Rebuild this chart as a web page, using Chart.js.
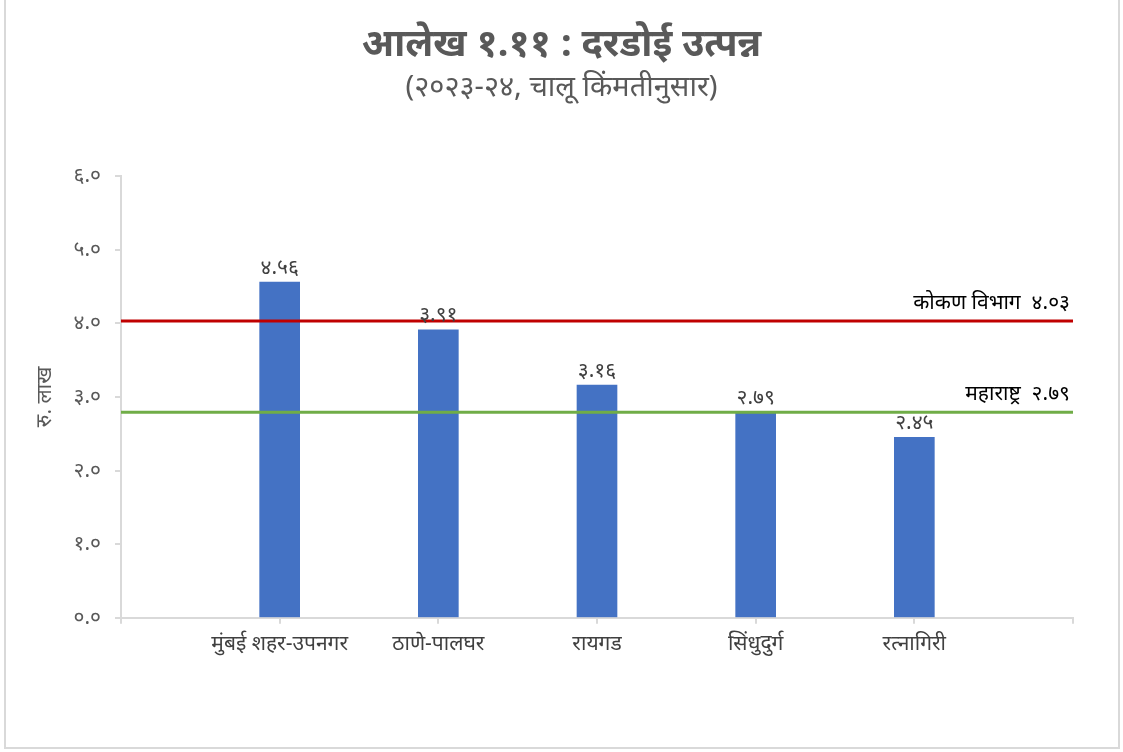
<!DOCTYPE html>
<html><head><meta charset="utf-8">
<script src="https://cdn.jsdelivr.net/npm/chart.js@4.4.1/dist/chart.umd.min.js"></script>
<style>html,body{margin:0;padding:0;background:#fff;}#wrap{width:1123px;height:752px;position:relative;}</style>
</head><body><div id="wrap"><canvas id="c" width="1123" height="752"></canvas></div>
<script>
const categories = ['', 'मुंबई शहर-उपनगर', 'ठाणे-पालघर', 'रायगड', 'सिंधुदुर्ग', 'रत्नागिरी', ''];
const barValues = [null, 4.56, 3.91, 3.16, 2.79, 2.45, null];
const barLabels = ['', '४.५६', '३.९१', '३.१६', '२.७९', '२.४५', ''];
const konkanValue = 4.03;
const konkanLabel = 'कोकण विभाग  ४.०३';
const maharashtraValue = 2.79;
const maharashtraLabel = 'महाराष्ट्र  २.७९';
const yTickLabels = ['०.०', '१.०', '२.०', '३.०', '४.०', '५.०', '६.०'];
const titleText = 'आलेख १.११ : दरडोई उत्पन्न';
const subtitleText = '(२०२३-२४, चालू किंमतीनुसार)';
const yTitle = 'रु. लाख';

const FONT = "'Noto Sans', 'Liberation Sans', sans-serif";

const konkanLine = categories.map(() => konkanValue);
const mhLine = categories.map(() => maharashtraValue);

const labelPlugin = {
  id: 'labels',
  afterDatasetsDraw(chart) {
    const ctx = chart.ctx;
    const meta = chart.getDatasetMeta(2);
    ctx.save();
    // titles
    ctx.textAlign = 'center';
    ctx.textBaseline = 'middle';
    ctx.fillStyle = '#595959';
    ctx.font = `bold 38px ${FONT}`;
    ctx.fillText(titleText, chart.width / 2, 45);
    ctx.font = `29px ${FONT}`;
    ctx.fillText(subtitleText, chart.width / 2, 88);
    // bar value labels
    ctx.font = `21px ${FONT}`;
    ctx.fillStyle = '#404040';
    ctx.textAlign = 'center';
    ctx.textBaseline = 'bottom';
    meta.data.forEach((el, i) => {
      if (barValues[i] == null) return;
      ctx.fillText(barLabels[i], el.x, el.y - 4);
    });
    const x = chart.scales.x;
    const y = chart.scales.y;
    ctx.font = `21px ${FONT}`;
    ctx.fillStyle = '#000';
    ctx.textAlign = 'right';
    ctx.fillText(konkanLabel, x.right - 3, y.getPixelForValue(konkanValue) - 8);
    ctx.fillText(maharashtraLabel, x.right - 3, y.getPixelForValue(maharashtraValue) - 8);
    // border
    ctx.strokeStyle = '#d9d9d9';
    ctx.lineWidth = 2;
    ctx.beginPath();
    ctx.moveTo(5, 0); ctx.lineTo(5, 748); ctx.lineTo(1119, 748); ctx.lineTo(1119, 0);
    ctx.stroke();
    ctx.restore();
  }
};

new Chart(document.getElementById('c'), {
  type: 'bar',
  data: {
    labels: categories,
    datasets: [
      { type: 'line', label: 'konkan', data: konkanLine, borderColor: '#c00000', borderWidth: 3, pointRadius: 0, order: 0 },
      { type: 'line', label: 'mh', data: mhLine, borderColor: '#70ad47', borderWidth: 3, pointRadius: 0, order: 0 },
      { type: 'bar', label: 'bars', data: barValues, backgroundColor: '#4472c4', borderWidth: 0, barThickness: 40, order: 1 }
    ]
  },
  options: {
    responsive: false,
    animation: false,
    devicePixelRatio: 1,
    layout: { padding: { left: 28, right: 50, top: 176, bottom: 87 } },
    plugins: {
      legend: { display: false },
      tooltip: { enabled: false },
      title: { display: false },
      subtitle: { display: false }
    },
    scales: {
      x: {
        offset: false,
        grid: { display: true, offset: false, drawOnChartArea: false, drawTicks: true, tickLength: 6, color: '#d9d9d9', lineWidth: 2 },
        border: { display: true, color: '#d9d9d9', width: 2 },
        ticks: { color: '#404040', font: { family: FONT, size: 21 }, maxRotation: 0, autoSkip: false, padding: 8 }
      },
      y: {
        min: 0, max: 6,
        afterFit(s) { s.width = 93; },
        grid: { display: true, drawOnChartArea: false, drawTicks: true, tickLength: 6, color: '#d9d9d9', lineWidth: 2 },
        border: { display: true, color: '#d9d9d9', width: 2 },
        ticks: { stepSize: 1, color: '#595959', font: { family: FONT, size: 21 }, padding: 14,
          callback: (v) => yTickLabels[Math.round(v)] },
        title: { display: true, text: yTitle, color: '#595959', font: { family: FONT, size: 21 }, padding: { bottom: 14 } }
      }
    }
  },
  plugins: [labelPlugin]
});
</script></body></html>
